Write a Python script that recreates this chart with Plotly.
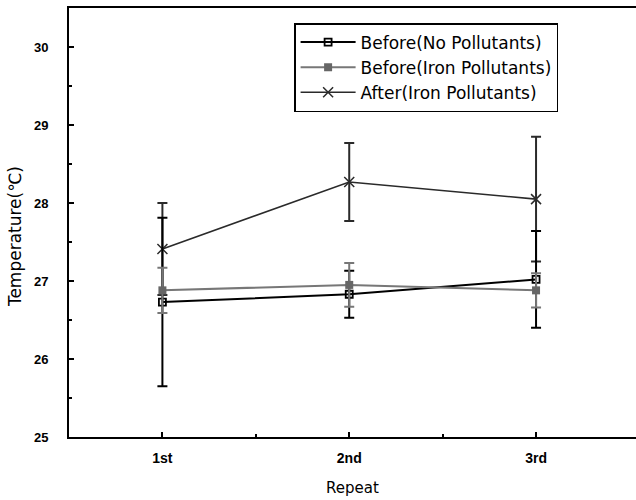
import plotly.graph_objects as go

categories = ["1st", "2nd", "3rd"]
x_pos = [1, 2, 3]

no_poll = [26.73, 26.83, 27.02]
no_poll_err = [1.08, 0.30, 0.62]

iron_before = [26.88, 26.95, 26.88]
iron_before_err = [0.29, 0.28, 0.22]

iron_after = [27.41, 28.27, 28.05]
iron_after_err = [0.59, 0.50, 0.80]

y_ticks = [25, 26, 27, 28, 29, 30]

fig = go.Figure()

fig.add_trace(go.Scatter(
    x=x_pos, y=iron_after, name="After(Iron Pollutants)", mode="lines+markers",
    line=dict(color="#2a2a2a", width=1.6),
    marker=dict(symbol="x-thin-open", size=10, line=dict(color="#2a2a2a", width=1.5)),
    error_y=dict(type="data", array=iron_after_err, color="#2a2a2a", thickness=2, width=5),
    legendgroup="c", legendrank=3,
))
fig.add_trace(go.Scatter(
    x=x_pos, y=no_poll, name="Before(No Pollutants)", mode="lines+markers",
    line=dict(color="#000000", width=2),
    marker=dict(symbol="square-open", size=7, line=dict(color="#000000", width=1.8)),
    error_y=dict(type="data", array=no_poll_err, color="#000000", thickness=2, width=5),
    legendgroup="a", legendrank=1,
))
fig.add_trace(go.Scatter(
    x=x_pos, y=iron_before, name="Before(Iron Pollutants)", mode="lines+markers",
    line=dict(color="#777777", width=2),
    marker=dict(symbol="square", size=8, color="#666666"),
    error_y=dict(type="data", array=iron_before_err, color="#777777", thickness=2, width=5),
    legendgroup="b", legendrank=2,
))

fig.add_annotation(
    text="Temperature(℃)", textangle=-90,
    xref="paper", yref="paper", x=-0.0952, y=0.466,
    xanchor="center", yanchor="middle", showarrow=False,
    font=dict(family="DejaVu Sans", size=17, color="black"),
)

fig.update_layout(
    width=636, height=500,
    margin=dict(l=69, r=0, t=8, b=63),
    paper_bgcolor="white", plot_bgcolor="white",
    font=dict(family="DejaVu Sans", size=12, color="black"),
    showlegend=True,
    legend=dict(
        x=0.397, y=0.965, xanchor="left", yanchor="top",
        bordercolor="black", borderwidth=1.5, bgcolor="white",
        font=dict(family="DejaVu Sans", size=17, color="black"),
        tracegroupgap=6, traceorder="normal",
        itemwidth=55,
    ),
    xaxis=dict(
        range=[0.5, 3.535], tickvals=x_pos, ticktext=categories,
        showline=True, linecolor="black", linewidth=2, mirror=True,
        ticks="inside", ticklen=5, tickwidth=2, tickcolor="black",
        minor=dict(tickvals=[1.5, 2.5], ticks="inside", ticklen=3, tickwidth=2, tickcolor="black"),
        showgrid=False, zeroline=False,
        ticklabelstandoff=7,
        tickfont=dict(family="Liberation Sans", size=14, weight="bold"),
        title=dict(text="Repeat", font=dict(family="DejaVu Sans", size=15), standoff=18),
    ),
    yaxis=dict(
        range=[25, 30.5], tickvals=y_ticks,
        showline=True, linecolor="black", linewidth=2,
        ticks="inside", ticklen=5, tickwidth=2, tickcolor="black",
        minor=dict(dtick=0.5, tick0=25, ticks="inside", ticklen=3, tickwidth=2, tickcolor="black"),
        showgrid=False, zeroline=False,
        ticklabelstandoff=16,
        tickfont=dict(family="Liberation Sans", size=13, weight="bold"),
    ),
)

fig.write_html("out.html", config={"displayModeBar": False},
               post_script="document.body.style.margin='0';")
